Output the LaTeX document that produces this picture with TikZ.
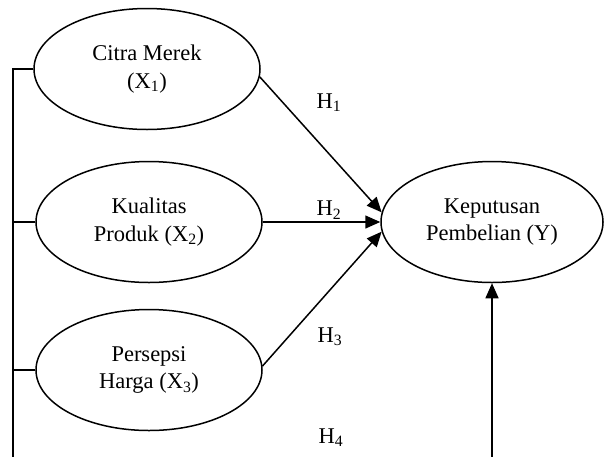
\documentclass[tikz,border=0pt]{standalone}
\usepackage{fontspec}
\setmainfont{Liberation Serif}
\usetikzlibrary{shapes.geometric, arrows.meta}
\tikzset{
  var/.style={draw, ellipse, line width=1.5pt, minimum width=226pt, minimum height=121pt, inner sep=0pt, align=center, font=\fontsize{22.5}{27.5}\selectfont},
  link/.style={line width=1.5pt},
  path/.style={line width=1.5pt, -{Triangle[length=15pt, width=13pt]}},
  hyp/.style={font=\fontsize{22.5}{27.5}\selectfont}
}
\begin{document}
\begin{tikzpicture}[x=1pt, y=-1pt]
            \useasboundingbox (0,0) rectangle (604,456);
            % variables
            \node[var] (X1) at (147,69) {Citra Merek\\(X\textsubscript{1})};
            \node[var] (X2) at (149,222) {Kualitas\\Produk (X\textsubscript{2})};
            \node[var] (X3) at (149,370) {Persepsi\\Harga (X\textsubscript{3})};
            \node[var, minimum width=222pt] (Y) at (492,222) {Keputusan\\Pembelian (Y)};
            \coordinate (bl) at (13,458);
            \coordinate (br) at (492,458);
            % left bracket
            \draw[link] (X1.west) -| (bl);
            \draw[link] (X2.west) -- (X2.west -| bl);
            \draw[link] (X3.west) -- (X3.west -| bl);
            % hypotheses
            \draw[path] (X1.-4) -- (Y.175);
            \draw[path] (X2.east) -- (Y.west);
            \draw[path] (X3.2) -- (Y.-175);
            \draw[path] (br) -- (Y.south);
            \node[hyp] (h1) at (329,103) {H\textsubscript{1}};
            \node[hyp] (h2) at (329,210) {H\textsubscript{2}};
            \node[hyp] (h3) at (330,337) {H\textsubscript{3}};
            \node[hyp] (h4) at (331,438) {H\textsubscript{4}};
        \end{tikzpicture}
\end{document}
